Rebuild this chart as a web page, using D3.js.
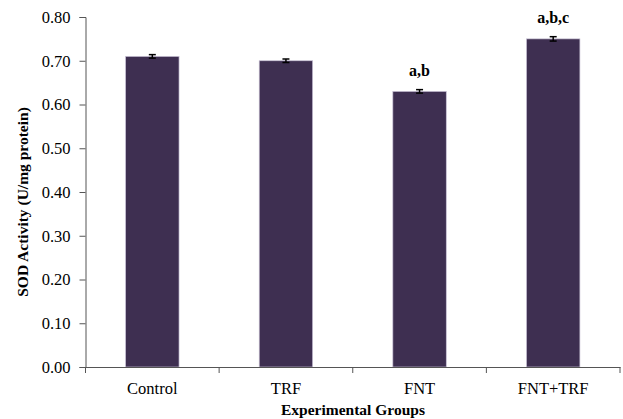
<!DOCTYPE html>
<html><head><meta charset="utf-8">
<script src="https://cdn.jsdelivr.net/npm/d3@7"></script>
<style>body{margin:0;background:#fff}svg{display:block}
svg text{font-family:"Liberation Serif","Times New Roman",Times,"DejaVu Serif",serif !important;}
</style>
</head><body>
<svg id="c" width="623" height="419"></svg>
<script>
const categories = ["Control", "TRF", "FNT", "FNT+TRF"];
const values = [0.710, 0.700, 0.630, 0.750];
const errors = [0.004, 0.004, 0.004, 0.005];
const sigLabels = ["", "", "a,b", "a,b,c"];
const yTicks = [0, 0.1, 0.2, 0.3, 0.4, 0.5, 0.6, 0.7, 0.8];

(function () {
const svg = d3.select("#c");
const mLeft = 85.5, mRight = 620, mTop = 17, mBottom = 367;
const x = d3.scaleBand().domain(categories).range([mLeft, mRight]).paddingInner(0.6).paddingOuter(0.3);
const xb = d3.scaleBand().domain(categories).range([mLeft, mRight]);
const y = d3.scaleLinear().domain([0, 0.8]).range([mBottom, mTop]);

// bars
svg.selectAll("rect.bar").data(categories).enter().append("rect")
  .attr("x", d => x(d)).attr("width", x.bandwidth())
  .attr("y", (d, i) => y(values[i])).attr("height", (d, i) => y(0) - y(values[i]))
  .attr("fill", "#3e2f51").attr("stroke", "#c9c2d6").attr("stroke-width", 0.7);

// error bars
const eb = svg.selectAll("g.err").data(categories).enter().append("g")
  .attr("stroke", "#000").attr("stroke-width", 1.5);
const cx = d => x(d) + x.bandwidth() / 2;
eb.append("line").attr("x1", cx).attr("x2", cx)
  .attr("y1", (d, i) => y(values[i] + errors[i])).attr("y2", (d, i) => y(values[i] - errors[i]));
eb.append("line").attr("x1", d => cx(d) - 3.5).attr("x2", d => cx(d) + 3.5)
  .attr("y1", (d, i) => y(values[i] + errors[i])).attr("y2", (d, i) => y(values[i] + errors[i]));
eb.append("line").attr("x1", d => cx(d) - 3.5).attr("x2", d => cx(d) + 3.5)
  .attr("y1", (d, i) => y(values[i] - errors[i])).attr("y2", (d, i) => y(values[i] - errors[i]));

// significance labels
svg.selectAll("text.sig").data(categories).enter().append("text")
  .attr("x", cx)
  .attr("y", (d, i) => y(values[i] + errors[i]) - 14)
  .attr("text-anchor", "middle").attr("font-weight", "bold")
  .attr("font-size", 16).text((d, i) => sigLabels[i]);

// y axis
const ya = svg.append("g").attr("transform", `translate(${mLeft},0)`)
  .call(d3.axisLeft(y).tickValues(yTicks).tickFormat(d3.format(".2f")).tickSize(6).tickPadding(9));
ya.select(".domain").attr("stroke", "#555");
ya.selectAll(".tick line").attr("stroke", "#555");
ya.selectAll("text").attr("font-size", 16.5).attr("fill", "#000");

// x axis
const xa = svg.append("g").attr("transform", `translate(0,${mBottom})`)
  .call(d3.axisBottom(xb).tickSize(0).tickSizeOuter(0).tickPadding(15));
xa.select(".domain").attr("stroke", "#555");
xa.selectAll("text").attr("font-size", 16.5).attr("fill", "#000");
const seps = categories.map(c => xb(c)).concat([mRight]);
xa.selectAll("line.sep").data(seps).enter().append("line")
  .attr("x1", d => d).attr("x2", d => d).attr("y1", 0).attr("y2", 6).attr("stroke", "#555");

// titles
svg.append("text").attr("x", 353).attr("y", 415).attr("text-anchor", "middle")
  .attr("font-weight", "bold").attr("font-size", 15.5).text("Experimental Groups");
svg.append("text").attr("transform", "translate(28,202) rotate(-90)").attr("text-anchor", "middle")
  .attr("font-weight", "bold").attr("font-size", 15.5).text("SOD Activity (U/mg protein)");
})();
</script>
</body></html>
